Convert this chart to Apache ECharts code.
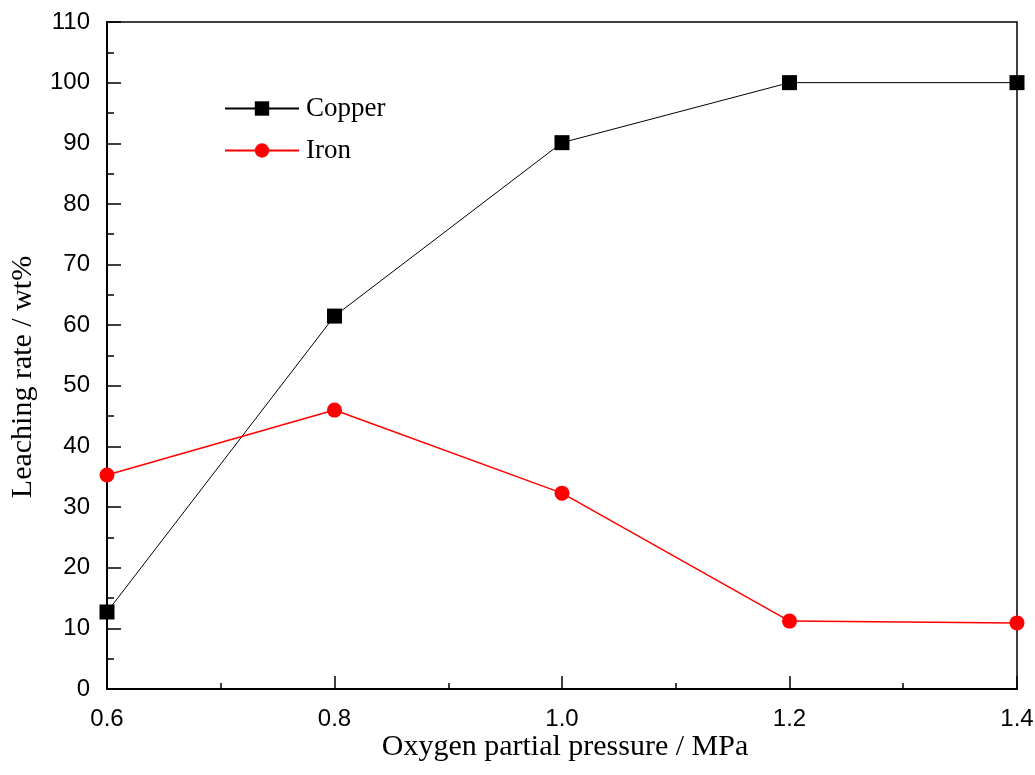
<!DOCTYPE html>
<html>
<head>
<meta charset="utf-8">
<script src="https://cdn.jsdelivr.net/npm/echarts@6/dist/echarts.min.js"></script>
<style>
html,body{margin:0;padding:0;background:#fff;}
#chart{width:1035px;height:775px;}
</style>
</head>
<body>
<div id="chart"></div>
<script>
// 数据
var pressure = [0.6, 0.8, 1.0, 1.2, 1.4];
var copper = [12.7, 61.5, 90.1, 100.0, 100.0];
var iron = [35.3, 46.0, 32.3, 11.2, 10.9];

function pairs(xs, ys){
	var out = [];
	for (var i = 0; i < xs.length; i++) out.push([xs[i], ys[i]]);
	return out;
}

var myChart = echarts.init(document.getElementById('chart'));
var option = {
	backgroundColor: '#fff',
	animation: false,
	grid: {
		left: 107, top: 22, right: 18, bottom: 86,
		outerBoundsMode: 'none', containLabel: false,
		show: true, borderColor: '#000', borderWidth: 1.5, backgroundColor: 'transparent'
	},
	legend: {
		orient: 'vertical',
		left: 219, top: 90,
		itemWidth: 74, itemHeight: 18, itemGap: 15,
		textStyle: { fontFamily: 'Liberation Serif', fontSize: 27, color: '#000', padding: [0, 0, 0, 2] },
		data: ['Copper', 'Iron']
	},
	graphic: [
		{
			type: 'text', x: 23, y: 377, rotation: Math.PI / 2,
			style: {
				text: 'Leaching rate / wt%', fill: '#000',
				font: '30px "Liberation Serif"', align: 'center', verticalAlign: 'middle'
			}
		},
		{
			type: 'text', x: 565, y: 747,
			style: {
				text: 'Oxygen partial pressure / MPa', fill: '#000',
				font: '30px "Liberation Serif"', align: 'center', verticalAlign: 'middle'
			}
		}
	],
	xAxis: {
		type: 'value', min: 0.6, max: 1.4, interval: 0.2,
		axisLine: { lineStyle: { color: '#000', width: 2 } },
		axisTick: { inside: true, length: 13, lineStyle: { color: '#000', width: 1.5 } },
		minorTick: { show: true, splitNumber: 2, length: 6, lineStyle: { color: '#000', width: 1.5 } },
		splitLine: { show: false },
		axisLabel: {
			fontFamily: 'Liberation Sans', fontSize: 24, color: '#000', margin: 18,
			formatter: function(v){ return v.toFixed(1); }
		}
	},
	yAxis: {
		type: 'value', min: 0, max: 110, interval: 10,
		axisLine: { show: true, lineStyle: { color: '#000', width: 2 } },
		axisTick: { inside: true, length: 14, lineStyle: { color: '#000', width: 1.5 } },
		minorTick: { show: true, splitNumber: 2, length: 7, lineStyle: { color: '#000', width: 1.5 } },
		splitLine: { show: false },
		axisLabel: { fontFamily: 'Liberation Sans', fontSize: 24, color: '#000', margin: 17 }
	},
	series: [
		{
			name: 'Copper', type: 'line',
			data: pairs(pressure, copper),
			symbol: 'rect', symbolSize: 15,
			lineStyle: { color: '#000', width: 1 },
			itemStyle: { color: '#000' }
		},
		{
			name: 'Iron', type: 'line',
			data: pairs(pressure, iron),
			symbol: 'circle', symbolSize: 15,
			lineStyle: { color: '#ff0000', width: 1.5 },
			itemStyle: { color: '#ff0000' }
		}
	]
};
myChart.setOption(option);
</script>
</body>
</html>
